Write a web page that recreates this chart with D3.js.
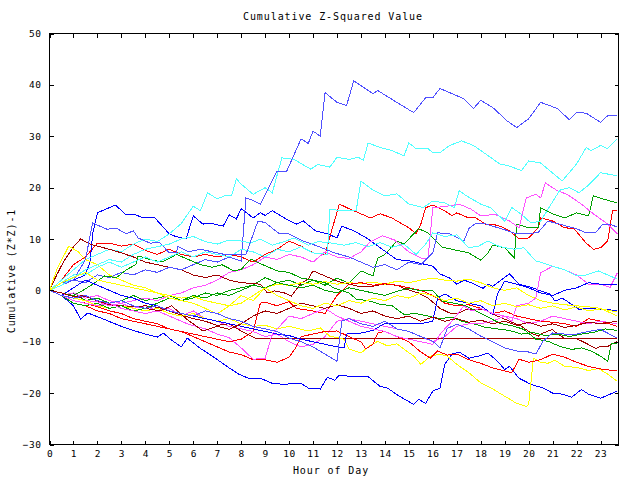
<!DOCTYPE html>
<html><head><meta charset="utf-8">
<script src="https://cdn.jsdelivr.net/npm/d3@7"></script>
<style>body{margin:0;background:#fff}svg{display:block}</style>
</head><body>
<svg id="chart" width="640" height="480"></svg>
<script>
const chartTitle = "Cumulative Z-Squared Value";
const xAxisLabel = "Hour of Day";
const yAxisLabel = "Cumulative (Z*Z)-1";
const xTickValues = [0,1,2,3,4,5,6,7,8,9,10,11,12,13,14,15,16,17,18,19,20,21,22,23];
const yTickValues = [-30,-20,-10,0,10,20,30,40,50];

// each series: [hour, cumulative value]
const s01 = [[0,0],[0.5,1],[1,2],[1.5,1.5],[2,3],[2.5,2.5],[3,3.5],[3.5,3],[4,4],[4.5,3.5],[5,4.5],[5.5,4],[6,5],[6.5,6],[7,5.5],[7.5,6.5],[8,5.7],[8.2,18],[8.5,17.5],[8.8,16.8],[9.5,23.2],[9.9,23.2],[10.5,29.5],[10.8,28.6],[11,31],[11.3,30],[11.5,38.5],[12,36.6],[12.4,36],[12.7,40.8],[13.5,38.3],[13.7,38.9],[14.6,36.3],[15.2,34.6],[15.7,37.5],[16,37.5],[16.3,39.3],[16.8,38.3],[17.3,37.3],[17.7,35.4],[18,37],[18.5,35.6],[19.1,33],[19.5,31.7],[20,33.4],[20.5,36.6],[21.2,35.4],[21.7,33.2],[22,34.6],[22.4,34.5],[23,32.7],[23.3,34],[23.7,34]];
const s02 = [[0,0],[0.5,2],[1,4],[1.5,6],[2,7],[2.5,8],[3,7.5],[3.5,9],[4,10],[4.5,9.5],[5,11],[5.5,13],[6,16.4],[6.3,15.5],[6.6,19],[7,17.8],[7.3,18.4],[7.6,18.4],[7.8,21.7],[8,20.7],[8.5,18.7],[9,20],[9.3,19],[9.7,25.8],[10.2,25.5],[10.9,23.6],[11.2,24.5],[11.7,24],[12,25.9],[12.5,25.5],[12.9,25.9],[13.1,25.3],[13.3,28.7],[13.8,27.8],[14.3,27.2],[14.8,26.2],[15,28.7],[15.3,27.6],[15.8,27.6],[16,26.8],[16.3,26.8],[16.7,28.2],[17.2,29.1],[17.7,28.2],[18.8,24.6],[19.2,24.2],[19.7,23.3],[20,25.2],[20.5,24.8],[21.4,21.3],[22,24.6],[22.4,27.8],[22.6,27.2],[23,28.2],[23.3,27.6],[23.7,29.5]];
const s03 = [[0,0],[0.5,1.5],[1,3],[1.5,3],[2,4.5],[2.5,5.5],[3,4.5],[3.5,5.5],[4,6.5],[4.5,5.5],[5,6.5],[5.5,7.5],[6,6.5],[6.5,7.5],[7,7],[7.5,6.5],[8,8],[8.5,7.5],[9,6.5],[9.5,8],[10,7.5],[10.5,8.5],[11,7.3],[11.6,7],[11.7,15.8],[12.2,15.5],[12.8,15.5],[13,21.3],[13.5,19.5],[14,18.4],[14.5,18.8],[15,16.8],[15.6,16.1],[16,17.4],[16.5,17],[16.9,16.1],[17.1,19.4],[17.4,18.4],[18,16.8],[18.4,16.1],[19,13.5],[19.3,16.1],[19.7,14.8],[20.1,13.1],[20.5,13.5],[21.3,19.5],[21.7,20],[22.1,19],[22.5,20.5],[23,22.9],[23.7,22.3]];
const s04 = [[0,0],[0.5,1],[1,2.5],[1.5,4],[2,5],[2.5,6],[3,5.5],[3.5,7],[4,8],[4.5,8.5],[5,9],[5.5,10],[6,10.5],[6.5,9.5],[7,9],[7.5,9.8],[8,9.6],[8.4,9.2],[8.8,10],[9.3,8.8],[9.8,9.5],[10.2,10.2],[10.8,8.8],[11.2,9.5],[11.8,9.2],[12.3,8.8],[12.8,9.3],[13.3,8.5],[13.8,9.3],[14.3,8.4],[14.8,9],[15.3,7],[15.7,9],[16,11.2],[16.5,10.5],[17,10.8],[17.5,8.3],[17.9,8.6],[18.3,9.6],[18.8,8.5],[19.4,8],[19.8,8.3],[20.3,5.7],[20.5,5.5],[21,4.7],[21.5,4],[22,2.8],[22.4,3],[22.9,3.8],[23.2,3.2],[23.7,2.2]];
const s05 = [[0,0],[0.5,-1],[1,-0.5],[1.5,-2],[2,-1.5],[2.5,-2.5],[3,-2],[3.5,-1],[4,-2],[4.5,-1.5],[5,-1],[5.5,-2],[6,-1.5],[6.5,-0.5],[7,-1],[7.5,0],[8,0.5],[8.5,1],[9,2.5],[9.5,1.5],[10,2],[10.5,1],[11,2],[11.5,1],[12,2.4],[12.5,1.4],[13,3.8],[13.5,2.8],[13.7,6.3],[14,7],[14.5,9.6],[14.8,9],[15.2,11],[15.4,12],[15.8,11.2],[16.4,8.4],[17,7.8],[17.5,7.3],[18,5.9],[18.3,7.3],[18.5,8.8],[19,8.3],[19.4,6.3],[19.5,12.9],[20,12.2],[20.4,12.2],[20.5,16.1],[21,14.9],[21.5,14.1],[22,15.1],[22.5,14.5],[22.7,18.4],[23.1,17.8],[23.7,17]];
const s06 = [[0,0],[0.5,2],[1,5],[1.5,6.5],[2,9.2],[2.5,9.2],[3,8.6],[3.5,9],[4,7.8],[4.5,7],[5,8],[5.5,7],[6,6.5],[6.5,7],[7,6.5],[7.5,7],[8,6.5],[8.5,5.5],[9,7],[9.5,8],[10,9.6],[10.5,8.6],[11,7.3],[11.5,7],[11.8,12],[12.1,16.8],[12.5,15.9],[13,14.9],[13.4,14.1],[13.8,14.9],[14.3,14.1],[14.5,13.5],[15,12.2],[15.3,11],[15.5,12.9],[15.7,16.1],[16,16.6],[16.5,15.5],[16.8,14.5],[17,15.1],[17.5,14.1],[17.8,14.1],[18.2,12.9],[18.5,12.9],[18.9,12.3],[19.2,11.6],[19.6,10],[20,10.2],[20.4,12.2],[20.5,14.1],[21,13.5],[21.5,12.2],[21.9,12],[22.4,9.2],[22.7,8],[23,8.3],[23.3,9.6],[23.5,15.5],[23.7,15.5]];
const s07 = [[0,0],[0.5,-1],[1,-0.5],[1.5,-1.5],[2,-1],[2.5,-2],[3,-2.5],[3.5,-2],[4,-1.5],[4.5,-2],[5,-1],[5.5,-0.5],[6,0.5],[6.5,1],[7,2],[7.5,3.5],[8,4],[8.5,5],[9,6.5],[9.5,6],[10,7],[10.5,6.5],[11,5.5],[11.5,7.5],[12,6.5],[12.5,6.2],[13,7.5],[13.4,9.5],[13.9,10.6],[14.4,9.8],[15,7.5],[15.5,6.3],[15.8,6.3],[16,16.1],[16.5,16.3],[17.1,16.8],[17.6,15.8],[18,14.5],[18.6,14.8],[19.2,13.5],[19.6,12.2],[19.9,18],[20.3,18.7],[20.5,18],[20.7,20.9],[21.2,19.4],[21.6,18.7],[22.2,16.8],[22.7,14.9],[23.3,12.9],[23.7,11]];
const s08 = [[0,0],[0.5,1.5],[1,2],[1.5,6],[1.8,13.1],[2.4,11.9],[2.8,12.1],[3.2,11],[3.5,11.6],[3.7,10.2],[4.2,9.2],[4.6,9.3],[5,7.3],[5.3,7.3],[5.35,8.6],[5.8,7.5],[6.3,8],[6.8,7.5],[7.3,7],[8,7],[8.2,7],[8.7,13.5],[9,13.2],[9.6,11],[10,11],[10.6,9.6],[11.2,8.6],[11.9,7.3],[12.5,6.5],[13,5.5],[13.5,4.5],[14,5],[14.5,4],[15,5.5],[15.5,5],[16,7.3],[16.2,11.2],[16.7,11],[17.3,9.6],[17.5,12],[17.8,13.1],[18.1,13.1],[18.5,12.5],[19,11.8],[19.5,11],[20,11],[20.4,11.3],[20.8,13.5],[21.2,13],[21.6,12.5],[22,12],[22.4,11.2],[22.8,11.3],[23.1,12.9],[23.4,12.9],[23.7,12.3]];
const s09 = [[0,0],[0.5,1],[1,2],[1.5,3],[1.7,5.7],[1.8,11],[2,15.1],[2.4,15.9],[2.75,16.6],[3.2,14.7],[3.6,14.7],[3.9,14.1],[4.4,14.1],[5,11],[5.2,10.6],[5.7,10],[6,14.5],[6.4,12.9],[6.7,13.1],[7.25,12.5],[7.5,14.7],[7.8,13.9],[8,15.9],[8.5,14.1],[8.8,15.1],[9,14.6],[9.3,15.5],[9.8,14.1],[10.3,12.9],[10.6,13.5],[11.1,11.6],[11.6,11],[12,10.2],[12.2,12.5],[12.7,11.6],[13.3,10],[13.8,8.3],[14.4,6.3],[14.5,6],[15.1,5.7],[16,4.7],[16.3,3.2],[16.7,2.4],[17,1.2],[17.3,2],[17.6,1.5],[18.1,0.4],[18.3,1.2],[18.5,0.8],[19.2,3.2],[19.6,1.2],[20.1,0.6],[20.5,-0.1],[20.9,-0.7],[21.1,-2.1],[21.4,-1.5],[21.6,-2.1],[21.9,-3.1],[22.1,-3.7],[22.5,-3.5],[23,-3.7],[23.7,-3.9]];
const s10 = [[0,0],[0.5,-1],[1,-3],[1.3,-5.6],[1.6,-4.4],[2.2,-5.5],[3,-7],[3.5,-7.8],[4,-8.5],[4.5,-9.1],[4.75,-8.3],[5.1,-9.7],[5.5,-11],[5.75,-9.3],[6.3,-11.3],[6.8,-12.8],[7.5,-15.1],[7.9,-16.3],[8.3,-17.1],[8.8,-17.1],[9.3,-18.1],[9.8,-18.3],[10.2,-18.1],[10.5,-18.1],[10.8,-19],[11.3,-19.2],[11.6,-16.9],[11.9,-17.5],[12.1,-16.5],[12.7,-16.8],[13.3,-16.8],[13.8,-18.7],[14.1,-19],[14.6,-20.6],[15.2,-22.2],[15.4,-21.2],[15.7,-22],[16,-19.6],[16.3,-19],[16.5,-14.4],[16.8,-12.4],[17.1,-12],[17.5,-13.2],[17.9,-12.8],[18.3,-12.2],[18.7,-13.8],[19,-15.4],[19.2,-14.8],[19.6,-17.1],[20.1,-18.3],[20.6,-19],[21,-20],[21.4,-20.2],[21.8,-20.8],[22.2,-19.3],[22.5,-20.2],[23,-21],[23.4,-20.2],[23.7,-19.6]];
const s11 = [[0,0],[0.5,-1],[1,-1.5],[1.5,-2],[2,-3],[2.5,-3.5],[3,-3],[3.5,-3.5],[4,-4],[4.5,-3.5],[5,-4.5],[5.5,-5],[6,-4.5],[6.5,-5.5],[7,-6],[7.5,-5.5],[8,-6.5],[8.5,-7],[9,-6.8],[9.5,-7.5],[10,-7],[10.8,-7.9],[11.3,-7.3],[11.7,-8.9],[12.3,-9.5],[12.5,-11.4],[13,-12.2],[13.3,-11],[13.7,-9.9],[14.1,-10.8],[14.5,-10.4],[14.9,-11.8],[15.2,-12.8],[15.5,-14.4],[15.9,-12.8],[16.3,-12.4],[16.6,-12.8],[17,-14.4],[17.5,-16],[18,-18],[18.5,-19.2],[19,-20.6],[19.5,-22],[19.9,-22.6],[20,-22.2],[20.2,-13.2],[20.5,-14],[20.8,-14.2],[21.1,-13.6],[21.5,-14.8],[22,-15],[22.5,-15.6],[22.9,-15.2],[23.3,-16.3],[23.7,-17.7]];
const s12 = [[0,0],[0.5,-1],[1,-1.5],[1.5,-1.2],[2,-2],[2.5,-2.8],[3,-3],[3.5,-3.2],[4,-3],[4.5,-3.3],[5,-4],[5.5,-4.8],[6,-5.5],[6.5,-6],[7,-6.8],[7.5,-6.5],[8,-7.9],[8.6,-9.3],[23.7,-9.3]];
const s13 = [[0,0],[0.3,3],[0.6,5.7],[1,8.5],[1.3,10],[1.7,9],[2,8.6],[2.5,8],[3,7.3],[3.5,6.5],[4,5.5],[4.5,5],[5,4.5],[5.5,4],[6,3],[6.5,2.5],[7,3],[7.5,2],[8,1.5],[8.3,1.4],[8.8,1.2],[9.1,-0.5],[9.4,-0.1],[9.8,-0.5],[10.1,-1.1],[10.5,1.4],[10.8,2.2],[11,3.8],[11.5,2.8],[12,1.8],[12.5,1.2],[12.9,0.8],[13.5,0.8],[13.9,1.2],[14.5,1],[14.9,0.2],[15.4,-0.5],[15.8,-1.5],[16.3,-3.5],[16.7,-4.4],[17,-4.6],[17.4,-3.7],[18.1,-3.7],[18.7,-5],[19.2,-6],[19.7,-7],[20.1,-8.3],[20.4,-8.9],[20.6,-8.3],[21,-7.6],[21.2,-8.5],[21.5,-9.3],[22,-9.4],[22.4,-10.3],[22.8,-11.3],[23,-10.9],[23.3,-10.9],[23.7,-9.9]];
const s14 = [[0,0],[0.5,-1],[1,-1.5],[1.5,-2],[2,-2.2],[2.5,-3],[3,-2.5],[3.5,-3.5],[4,-3],[4.5,-4],[5,-3.5],[5.5,-5],[6,-4],[6.5,-5.5],[7,-6],[7.5,-7],[8,-7.5],[8.5,-8],[9,-9],[9.5,-8.5],[10,-10],[10.5,-11],[11,-10.5],[11.5,-9],[12,-6],[12.5,-5.5],[13,-6],[13.5,-6.5],[14,-7],[14.5,-7.5],[15,-8],[15.5,-9],[16,-10],[16.5,-9],[17,-7],[17.5,-6.5],[18,-6.5],[18.5,-6],[19,-5],[19.3,-6],[19.5,-3],[20,-2.5],[20.3,-1.5],[20.5,3.4],[21,4.7],[21.5,4],[22,3],[22.5,1.2],[23,1.2],[23.4,0.6],[23.7,3.4]];
const s15 = [[0,0],[0.5,-1],[1,-2],[1.5,-2.5],[2,-3],[2.5,-2.5],[3,-3.5],[3.5,-4],[4,-4.5],[4.5,-4],[5,-5],[5.5,-6],[5.8,-6.6],[6.5,-7.5],[7,-8.5],[7.5,-9.2],[8,-11.2],[8.5,-13.4],[9,-13.2],[9.3,-8.5],[9.5,-7.5],[10,-5],[10.5,-5.5],[11,-4.5],[11.5,-3.5],[12,-5],[12.5,-6],[13,-7],[13.5,-7.5],[14,-8],[14.5,-9],[15,-9.5],[15.5,-10],[16,-10.5],[16.4,-8],[16.8,-6],[17.3,-3],[17.6,-4],[18,-3.5],[18.5,-4.5],[19,-5],[19.5,-5.5],[20,-6.5],[20.5,-6],[21,-5],[21.5,-5.5],[22,-6],[22.5,-6.5],[23,-6],[23.7,-6.5]];
const s16 = [[0,0],[0.5,-1],[1,-2.5],[1.5,-3],[2,-4],[2.5,-4.5],[3,-5.5],[3.5,-6],[4,-6.5],[4.5,-7],[5,-7.5],[5.5,-8],[6,-8.5],[6.5,-9],[7,-9.5],[7.5,-10],[8,-9.5],[8.5,-8],[8.8,-2.5],[9,-2.3],[9.5,-3],[10,-2.2],[10.3,-3.5],[10.7,-3.8],[11,-4],[11.5,-4.5],[12,-1],[12.5,1.2],[13,1.5],[13.5,1],[14,1.3],[14.5,1],[15,0.5],[15.5,0],[16,-1],[16.5,-2.5],[17,-3],[17.5,-2.8],[18,-3.5],[18.5,-4.5],[19,-4],[19.5,-5],[20,-5.5],[20.5,-6],[21,-6.2],[21.5,-6.5],[22,-7],[22.5,-5.5],[23,-6],[23.7,-7]];
const s17 = [[0,0],[0.3,4],[0.8,8.6],[1.2,7.5],[1.5,6],[2,5],[2.5,3],[3,2],[3.5,1],[4,0.5],[4.5,-0.5],[5,-1],[5.5,-1.5],[6,-1.2],[6.5,-2],[7,-2.5],[7.5,-3],[8,-2.5],[8.5,-1],[9,0.5],[9.5,1.2],[10,1],[10.5,1.5],[11,1.2],[11.5,1.7],[12,1.2],[12.5,1.5],[13,1.3],[13.5,1.6],[14,1.2],[14.5,1.8],[15,1.5],[15.5,2],[16,2.4],[16.5,2],[17,1.8],[17.5,2.2],[18,1.5],[18.5,0.5],[19,0],[19.5,0.5],[20,-1],[20.5,-2],[21,-2.5],[21.5,-2.8],[22,-3],[22.5,-3.2],[23,-3.5],[23.7,-5]];
const s18 = [[0,0],[0.5,-1],[1,-2],[1.5,-2.5],[2,-3.2],[2.5,-4],[3,-4.5],[3.5,-5.5],[4,-6],[4.5,-6.5],[5,-7.5],[5.5,-8],[6,-9],[6.5,-10],[7,-11],[7.5,-12],[8,-12.5],[8.5,-13.5],[9,-13.5],[9.5,-14],[10,-13],[10.3,-11],[10.5,-9],[11,-8.5],[11.5,-8],[12,-7.9],[12.5,-9],[13,-10],[13.2,-11.4],[13.5,-10.5],[13.7,-8.3],[14,-8],[14.5,-9],[15,-10],[15.5,-12],[15.9,-13.2],[16.2,-11.8],[16.6,-12.6],[17,-12.4],[17.5,-13.5],[18,-14.2],[18.5,-15.1],[19,-15.7],[19.3,-16],[19.6,-13.4],[20,-14],[20.5,-13.5],[21,-12.4],[21.5,-13],[22,-14],[22.5,-14.8],[23,-15.3],[23.7,-15.7]];
const s19 = [[0,0],[0.5,-1],[1,-2.5],[1.5,-3],[2,-2.5],[2.5,-3.5],[3,-3],[3.5,-4],[4,-3.5],[4.5,-2.5],[5,-1.5],[5.5,-2],[6,-1],[6.5,-1.5],[7,-0.5],[7.5,-1],[8,0],[8.5,1],[9,0.5],[9.5,1.5],[10,1],[10.5,0.5],[11,1],[11.5,0],[12,-0.5],[12.5,0.5],[13,0],[13.5,-0.5],[14,-1],[14.5,-0.2],[15,0.4],[15.5,-0.1],[16,-0.1],[16.4,-2.1],[16.9,-2.5],[17.3,-2.9],[17.8,-4],[18.3,-5.2],[18.8,-6.4],[19.4,-7],[19.8,-7.6],[20.3,-9.5],[20.8,-9.9],[21.3,-10.9],[21.8,-11.5],[22.2,-11.2],[22.6,-11.8],[23,-12.8],[23.3,-13.8],[23.45,-10.3],[23.7,-10.3]];
const s20 = [[0,0],[0.5,-0.5],[1,-1],[1.4,0],[1.8,1.2],[2.3,2.8],[2.8,2.5],[3.2,4],[3.6,5],[3.7,6.7],[4.2,6],[4.7,5.5],[5.3,7],[5.8,6],[6.3,5],[6.8,4.5],[7.2,5],[7.7,3.8],[8,4.1],[8.4,6.1],[8.9,5],[9.5,3.8],[10,3.5],[10.5,2.4],[11,2],[11.5,1.5],[11.9,0.4],[12.5,-0.5],[12.8,-1.7],[13.3,-2],[13.8,-2.7],[14.3,-3],[14.8,-4.7],[15.3,-4.5],[15.8,-5],[16.3,-5.5],[16.8,-5.2],[17.2,-6],[17.7,-6.5],[18.2,-7.2],[18.7,-7.5],[19.2,-7.8],[19.7,-8.5],[20.2,-8.2],[20.7,-8.8],[21.2,-8.5],[21.7,-9],[22.2,-8.5],[22.7,-8.2],[23.2,-7.5],[23.7,-7.8]];
const s21 = [[0,0],[0.5,-1],[1,-1.5],[1.5,-1],[2,-2],[2.5,-2.5],[3,-2],[3.5,-3],[4,-3.5],[4.5,-3],[5,-4],[5.5,-4.5],[6,-5],[6.5,-4],[7,-4.5],[7.5,-5.5],[8,-6],[8.5,-7],[9,-7.5],[9.5,-8],[10,-9.3],[10.5,-10],[11,-11],[11.5,-12.4],[12,-13.8],[12.2,-6],[12.5,-5.5],[13,-6.5],[13.5,-7],[14,-6],[14.5,-7.5],[15,-8],[15.5,-9],[16,-9.9],[16.3,-11.2],[16.6,-7.4],[17,-6.6],[17.5,-7.5],[18,-8.9],[18.5,-10],[19,-11.2],[19.5,-11.8],[20,-12],[20.3,-12.4],[20.6,-9.9],[21,-8.3],[21.5,-8.5],[22,-8.5],[22.5,-8],[23,-7.6],[23.7,-9.3]];
const s22 = [[0,0],[0.5,-1],[1,0.5],[1.5,2],[2,1],[2.5,0],[3,-1],[3.5,-1.5],[4,-2.5],[4.5,-3],[5,-4],[5.5,-4.5],[6,-5],[6.5,-5.5],[7,-6],[7.5,-6.5],[8,-7],[8.5,-7.5],[9,-8],[9.5,-8.5],[10,-8.8],[10.5,-9.5],[11,-10],[11.5,-10.5],[12,-11],[12.3,-11.2],[12.4,-8.5],[13,-8.3],[13.5,-7.8],[14,-6.4],[14.5,-6.5],[15,-6.4],[15.5,-6.5],[16,-6],[16.2,-1.5],[16.5,-0.7],[17,-2],[17.5,-2.5],[18,-3],[18.5,-4.7],[18.7,-0.7],[19,1.8],[19.5,1.2],[20,0.5],[20.5,-0.5],[21,-1],[21.5,0],[22,0.5],[22.5,1.5],[23,1.2],[23.7,1.2]];
const s23 = [[0,0],[0.5,-0.5],[1,-1.2],[1.5,-1],[2,-2],[2.5,-2.5],[3,-2],[3.5,-3],[4,-3.5],[4.6,-4],[5.1,-3],[5.7,-5.5],[6.4,-7.9],[7,-7],[7.5,-7.6],[8,-6.5],[8.5,-5],[9,-4],[9.5,-4.5],[10,-3.5],[10.5,-2.5],[11,-3],[11.5,-3.5],[12,-2.8],[12.5,-3.5],[13,-4.5],[13.5,-4],[14,-5],[14.5,-5.5],[15,-5],[15.5,-6],[16,-5.2],[16.5,-6],[17,-5.5],[17.5,-6.2],[18,-5.8],[18.5,-6.5],[19,-6],[19.5,-6.8],[20,-6.2],[20.5,-7],[21,-6.5],[21.5,-7.2],[22,-6.8],[22.5,-6.2],[23,-6.5],[23.7,-6]];
const s24 = [[0,0],[0.5,1.5],[1,2.5],[1.5,3.5],[2,2],[2.5,1.5],[3,1],[3.5,0.5],[4,0],[4.5,-0.5],[5,-1.5],[5.5,-2],[6,-2.5],[6.5,-3.5],[7,-4.6],[7.5,-3],[8,-1],[8.5,-2],[9,0.5],[9.5,-1],[10,-2],[10.5,-3],[11,-3.5],[11.5,-2.5],[12,-3],[12.5,-2],[13,-2.5],[13.5,-1.5],[14,-2],[14.5,-1],[15,-1.5],[15.5,-0.5],[16,-1],[16.5,-2],[17,-1.5],[17.5,-2.5],[18,-2],[18.5,-3],[19,-2.5],[19.5,-3.2],[20,-2.8],[20.5,-3.5],[21,-3],[21.5,-3.8],[22,-3.2],[22.5,-4],[23,-3.6],[23.7,-4.2]];

const seriesList = [s06,s05,s09,s07,s02,s13,s17,s01,s16,s20,s10,s14,s03,s12,s11,s08,s18,s19,s22,s15,s04,s23,s24,s21];
const seriesColors = ["#ff0000","#00a000","#0000ff","#ff50ff","#50ffff","#a00000","#ffff00","#5050ff"];

const svg = d3.select("#chart");
const xScale = d3.scaleLinear().domain([0, 23.75]).range([49.5, 618.5]);
const yScale = d3.scaleLinear().domain([-30, 50]).range([444.5, 33.5]);
const fontFam = "'DejaVu Sans Mono', monospace";

const lineGen = d3.line().x(d => xScale(d[0])).y(d => yScale(d[1]));
svg.append("g").selectAll("path").data(seriesList).join("path")
  .attr("d", lineGen)
  .attr("fill", "none")
  .attr("stroke", (d, i) => seriesColors[i % seriesColors.length])
  .attr("stroke-width", 1)
  .attr("shape-rendering", "crispEdges");

const axBottom = svg.append("g").attr("transform", "translate(0,444.5)")
  .call(d3.axisBottom(xScale).tickValues(xTickValues).tickSize(-4).tickPadding(6).tickFormat(d3.format("d")));
const axTop = svg.append("g").attr("transform", "translate(0,33.5)")
  .call(d3.axisTop(xScale).tickValues(xTickValues).tickSize(-4).tickFormat(""));
const axLeft = svg.append("g").attr("transform", "translate(49.5,0)")
  .call(d3.axisLeft(yScale).tickValues(yTickValues).tickSize(-4).tickPadding(8).tickFormat(d3.format("d")));
const axRight = svg.append("g").attr("transform", "translate(618.5,0)")
  .call(d3.axisRight(yScale).tickValues(yTickValues).tickSize(-4).tickFormat(""));
[axBottom, axTop, axLeft, axRight].forEach(g => {
  g.select(".domain").remove();
  g.selectAll("line").attr("stroke", "#000").attr("shape-rendering", "crispEdges");
  g.selectAll("text").attr("fill", "#000").style("font-family", fontFam).style("font-size", "9.5px").style("letter-spacing", "0.5px");
});

svg.append("rect").attr("x", 49.5).attr("y", 33.5).attr("width", 569).attr("height", 411)
  .attr("fill", "none").attr("stroke", "#000").attr("shape-rendering", "crispEdges");

svg.append("text").attr("x", 333).attr("y", 20).attr("text-anchor", "middle")
  .style("font-family", fontFam).style("font-size", "10px").style("letter-spacing", "0.9px").text(chartTitle);
svg.append("text").attr("x", 331).attr("y", 474).attr("text-anchor", "middle")
  .style("font-family", fontFam).style("font-size", "10px").style("letter-spacing", "0.9px").text(xAxisLabel);
svg.append("text").attr("transform", "translate(15,271) rotate(-90)").attr("text-anchor", "middle")
  .style("font-family", fontFam).style("font-size", "10px").style("letter-spacing", "0.9px").text(yAxisLabel);
</script>
</body></html>
